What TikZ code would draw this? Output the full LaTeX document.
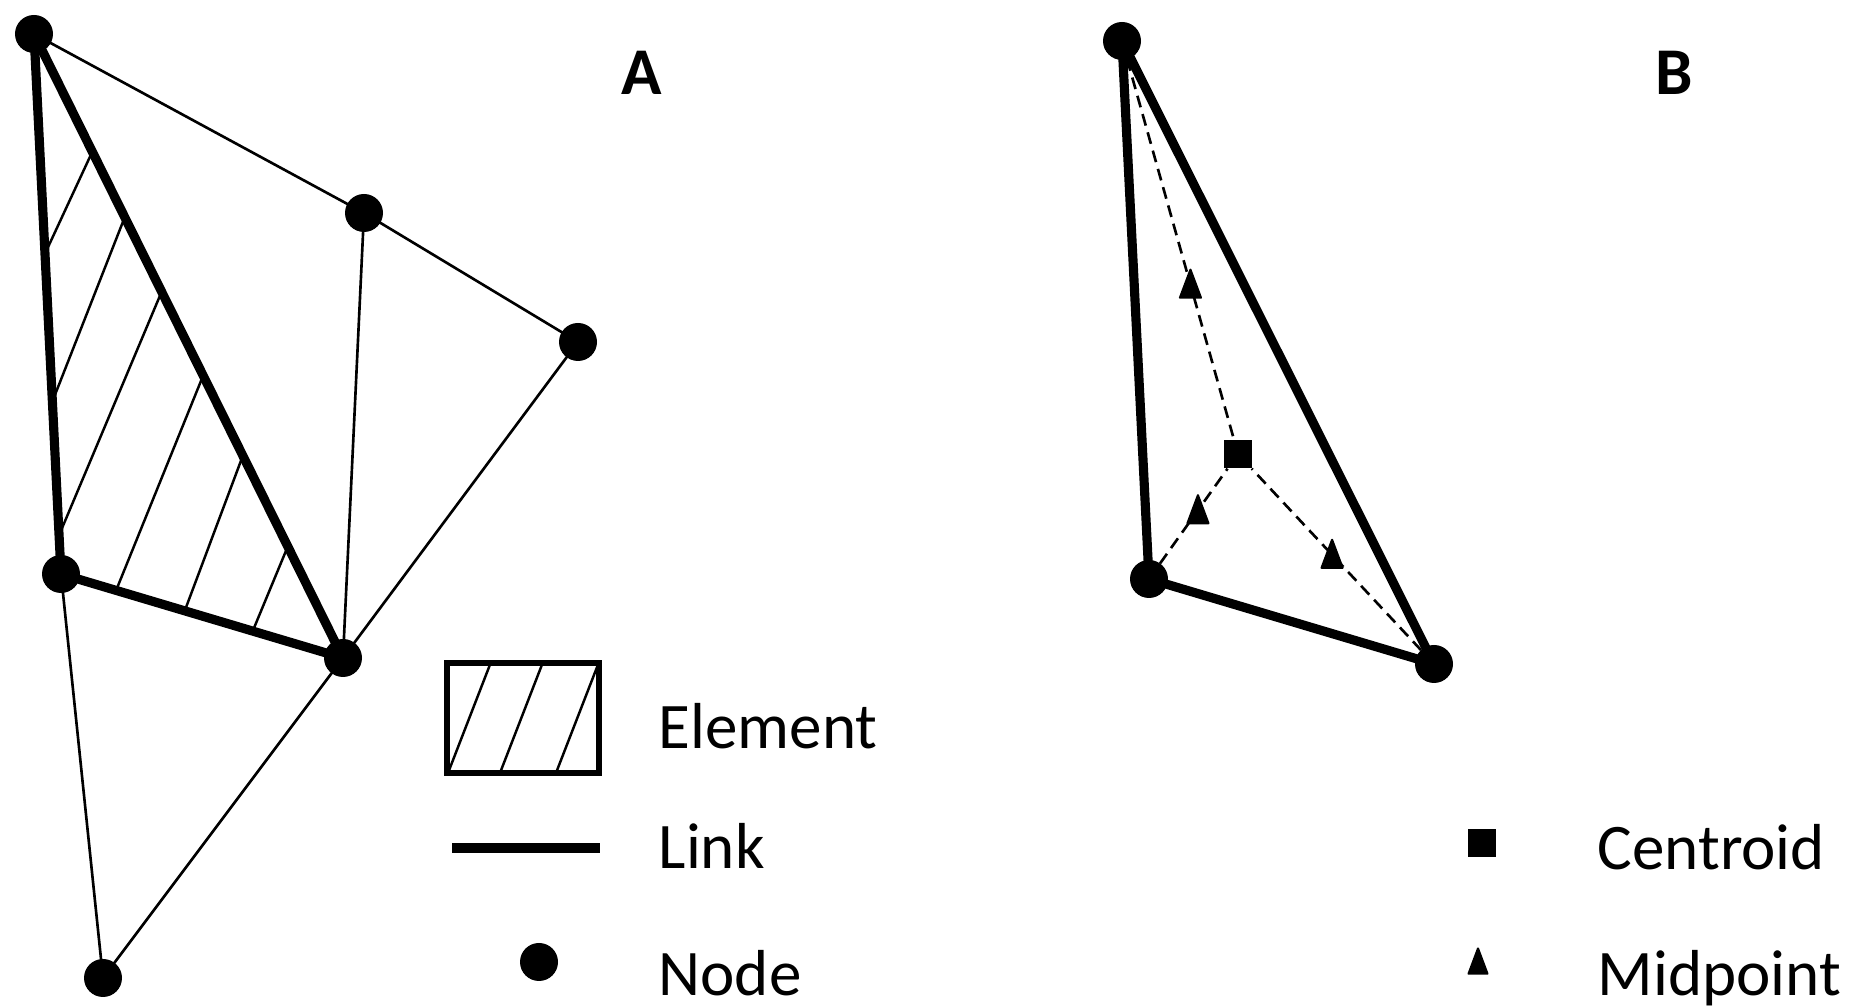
\documentclass[tikz,border=0pt]{standalone}
\usepackage{fontspec}
\setmainfont{Carlito}
\usepackage{tkz-euclide}
\usetikzlibrary{calc}

\tikzset{
  linkline/.style={line width=2.6pt,line cap=round,line join=round},
  meshline/.style={line width=0.75pt},
  hatchline/.style={line width=0.7pt},
  dashlink/.style={line width=0.75pt,dash pattern=on 3.4pt off 2pt},
  centroidmark/.style={rectangle,fill=black,inner sep=0pt,minimum size=0.28cm},
  midmark/.pic={\filldraw[line width=0.6pt,line join=round]
    (-0.105,-0.13) -- (0.105,-0.13) -- (0,0.15) -- cycle;},
  legtext/.style={anchor=base west,inner sep=0pt,font=\fontsize{18.5}{22}\selectfont},
  paneltext/.style={inner sep=0pt,font=\bfseries\fontsize{19}{22}\selectfont}
}

\begin{document}
\begin{tikzpicture}
\useasboundingbox (0,0) rectangle (18.58,10.08);

% panel A
\tkzDefPoints{0.34/9.74/A1,3.64/7.95/A2,5.78/6.66/A3,0.61/4.34/A4,3.43/3.50/A5,1.03/0.30/A6}

\tkzDrawSegments[meshline](A1,A2 A2,A3 A2,A5 A3,A5 A4,A6 A5,A6)

\begin{scope}
\clip (A1) -- (A4) -- (A5) -- cycle;
\foreach \xa/\ya/\xb/\yb in {0.488/7.625/0.895/8.502, 0.573/6.19/1.217/7.83,
    0.64/4.845/1.607/7.14, 1.183/4.23/2.03/6.32, 1.86/4.005/2.42/5.50,
    2.54/3.80/2.88/4.62}
  \draw[hatchline] ($(\xa,\ya)!-0.2!(\xb,\yb)$) -- ($(\xb,\yb)!-0.2!(\xa,\ya)$);
\end{scope}

\tkzDrawSegments[linkline](A1,A4 A4,A5 A1,A5)

\foreach \p in {A1,A2,A3,A4,A5,A6}
  \fill (\p) circle (0.19);

\node[paneltext] (labA) at (6.42,9.35) {A};

% legend A
\coordinate (E1) at (4.47,2.35);
\coordinate (E2) at (5.99,3.45);
\begin{scope}
\clip (E1) rectangle (E2);
\foreach \x in {4.48,5.00,5.56}
  \draw[hatchline] (\x,2.35) -- ++(0.5,1.29);
\end{scope}
\draw[line width=1.6pt] (E1) rectangle (E2);
\node[legtext] (txtElement) at (6.58,2.59) {Element};

\coordinate (L1) at (4.52,1.60);
\coordinate (L2) at (6.00,1.60);
\draw[linkline,line cap=butt] (L1) -- (L2);
\node[legtext] (txtLink) at (6.58,1.39) {Link};

\coordinate (LD) at (5.39,0.46);
\fill (LD) circle (0.19);
\node[legtext] (txtNode) at (6.58,0.12) {Node};

% panel B
\tkzDefPoints{11.22/9.67/B1,11.49/4.29/B2,14.34/3.44/B3}
\node[centroidmark] (C) at (12.38,5.54) {};

\draw[dashlink] (B1) -- (C);
\draw[dashlink] (B2) -- (C);
\draw[dashlink] (B3) -- (C);

\tkzDrawSegments[linkline](B1,B2 B2,B3 B1,B3)

\coordinate (M1) at ($(B1)!0.59!(C)$);
\coordinate (M2) at ($(B2)!0.55!(C)$);
\coordinate (M3) at ($(B3)!0.52!(C)$);
\foreach \m in {M1,M2,M3}
  \path (\m) pic {midmark};

\foreach \p in {B1,B2,B3}
  \fill (\p) circle (0.19);

\node[paneltext] (labB) at (16.74,9.35) {B};

% legend B
\node[centroidmark] (legC) at (14.82,1.65) {};
\node[legtext] (txtCentroid) at (15.97,1.38) {Centroid};
\coordinate (legM) at (14.78,0.46);
\path (legM) pic[scale=0.9] {midmark};
\node[legtext] (txtMidpoint) at (15.97,0.12) {Midpoint};

\end{tikzpicture}
\end{document}
